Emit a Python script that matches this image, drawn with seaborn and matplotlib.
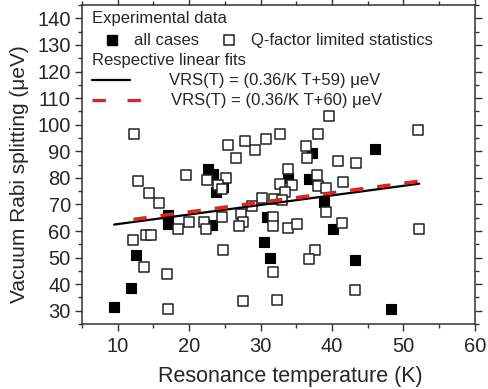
import numpy as np
import pandas as pd
import matplotlib
matplotlib.use("Agg")
import matplotlib.pyplot as plt
import seaborn as sns
from matplotlib.ticker import MultipleLocator

# filled squares: all cases
all_T = [9.5, 11.9, 12.6, 17.0, 17.1, 22.6, 23.4, 23.7, 24.8, 23.2, 30.9,
         30.5, 31.3, 33.9, 36.8, 37.2, 38.9, 40.1, 43.2, 46.0, 48.3]
all_vrs = [31.3, 38.7, 51.0, 66.1, 62.5, 83.4, 81.5, 74.7, 76.7, 62.3, 65.3,
           55.8, 49.8, 80.0, 79.7, 89.5, 71.0, 60.9, 49.1, 91.0, 30.6]

# open squares: Q-factor limited statistics
q_T = [12.3, 12.8, 14.4, 15.8, 19.6, 22.5, 25.2, 24.1, 24.6, 25.5, 26.5,
       27.8, 29.2, 30.8, 32.7, 38.1, 39.6, 52.1, 36.4, 36.5, 40.8, 43.4,
       33.9, 37.9, 32.7, 34.4, 38.0, 39.2, 41.5, 33.4, 30.2, 31.9, 33.0,
       28.8, 27.3, 27.6, 27.0, 31.7, 31.8, 33.9, 35.1, 39.2, 41.4, 52.2,
       18.4, 20.0, 22.1, 22.4, 24.6, 12.2, 14.0, 14.6, 13.7, 16.9, 17.1,
       24.8, 27.5, 31.8, 37.6, 36.8, 43.2, 32.3]
q_vrs = [96.4, 78.8, 74.4, 70.7, 81.1, 79.3, 79.8, 77.3, 75.7, 92.4, 87.4,
         93.9, 90.5, 94.5, 96.5, 96.4, 103.2, 98.0, 92.1, 87.6, 86.5, 85.6,
         83.4, 81.0, 77.8, 77.4, 77.1, 76.2, 78.6, 74.7, 72.3, 71.9, 71.5,
         69.5, 66.5, 63.5, 61.7, 65.4, 61.8, 61.0, 62.6, 67.3, 62.9, 60.8,
         60.8, 63.4, 63.2, 60.6, 65.4, 56.5, 58.5, 58.5, 46.6, 43.7, 30.7,
         52.9, 33.5, 44.4, 52.9, 49.5, 37.7, 34.1]

# linear fits VRS(T) = slope*T + offset
fit_slope = 0.36
fit_offset_all = 59
fit_offset_q = 60

sns.set_style("ticks")
plt.rcParams['font.family'] = ['Liberation Sans', 'DejaVu Sans']

pts = pd.concat([
    pd.DataFrame({'T': all_T, 'VRS': all_vrs, 'set': 'all cases'}),
    pd.DataFrame({'T': q_T, 'VRS': q_vrs, 'set': 'Q-factor limited statistics'}),
])

fig = plt.figure(figsize=(4.88, 3.89), dpi=100)
ax = fig.add_axes([0.168, 0.167, 0.805, 0.82])

sns.scatterplot(data=pts[pts['set'] == 'all cases'], x='T', y='VRS', marker='s',
                s=52, color='black', edgecolor='black', linewidth=0.8, ax=ax,
                legend=False, zorder=2)
sns.scatterplot(data=pts[pts['set'] != 'all cases'], x='T', y='VRS', marker='s',
                s=52, facecolor='white', edgecolor='#222222', linewidth=1.1, ax=ax,
                legend=False, zorder=3)

# fit lines across each data range
t_all = np.array([min(all_T + q_T), max(all_T + q_T)])
t_q = np.array([min(q_T), max(q_T)])
sns.lineplot(x=t_all, y=fit_slope * t_all + fit_offset_all, color='black',
             lw=1.6, ax=ax, zorder=4)
sns.lineplot(x=t_q, y=fit_slope * t_q + fit_offset_q, color='#e8201c',
             lw=2.4, dashes=False, ax=ax, zorder=5)
ax.lines[-1].set_dashes((4.0, 4.2))

ax.set_xlim(5, 60)
ax.set_ylim(25, 145)
ax.xaxis.set_major_locator(MultipleLocator(10))
ax.xaxis.set_minor_locator(MultipleLocator(5))
ax.yaxis.set_major_locator(MultipleLocator(10))
ax.yaxis.set_minor_locator(MultipleLocator(5))
ax.set_yticks(np.arange(30, 141, 10))
ax.tick_params(which='both', direction='out', top=True, right=True,
               labeltop=False, labelright=False, width=1, color='#333333')
ax.tick_params(which='major', length=5, labelsize=14.5, pad=3)
ax.tick_params(axis='x', which='major', pad=4)
ax.tick_params(which='minor', length=3)
for sp in ax.spines.values():
    sp.set_linewidth(1.1)
    sp.set_color('#333333')

ax.set_xlabel('Resonance temperature (K)', fontsize=15.5)
ax.set_ylabel('Vacuum Rabi splitting (μeV)', fontsize=15)
ax.xaxis.set_label_coords(0.53, -0.13)
ax.yaxis.set_label_coords(-0.135, 0.47)

# legend block
W, H, X0, Y0 = 393.0, 319.0, 82.0, 5.0
def fx(px):
    return (px - X0) / W
def fy(py):
    return 1 - (py - Y0) / H

tkw = dict(transform=ax.transAxes, fontsize=12, va='center', ha='left')
ax.text(fx(92), fy(18), 'Experimental data', **tkw)
ax.plot([fx(112)], [fy(40)], marker='s', ms=7, color='black', transform=ax.transAxes)
ax.text(fx(134), fy(40), 'all cases', **tkw)
ax.plot([fx(229)], [fy(40)], marker='s', ms=7, mfc='white', mec='#222222',
        mew=1.1, transform=ax.transAxes)
ax.text(fx(251), fy(40), 'Q-factor limited statistics', **tkw)
ax.text(fx(92), fy(60), 'Respective linear fits', **tkw)
ax.plot([fx(92), fx(130)], [fy(80), fy(80)], color='black', lw=1.6,
        transform=ax.transAxes)
ax.text(fx(169), fy(80), 'VRS(T) = (0.36/K T+59) μeV', **tkw)
red, = ax.plot([fx(92), fx(142)], [fy(100), fy(100)], color='#e8201c', lw=2.4,
               transform=ax.transAxes)
red.set_dashes((4.0, 6.5))
ax.text(fx(171), fy(100), 'VRS(T) = (0.36/K T+60) μeV', **tkw)

fig.savefig('out.png', dpi=100)
